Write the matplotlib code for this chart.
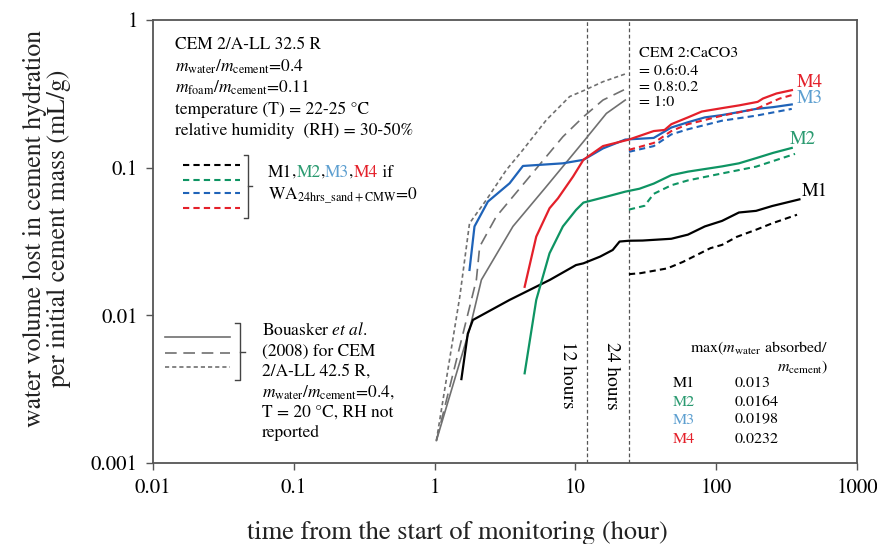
import numpy as np
import matplotlib
matplotlib.use('Agg')
import matplotlib.pyplot as plt
from matplotlib.lines import Line2D

plt.rcParams['font.family'] = 'STIXGeneral'
plt.rcParams['mathtext.fontset'] = 'stix'

# --- data (hours, mL/g) ---
m1_t = [1.55, 1.72, 1.87, 3.4, 6.6, 10.1, 11.4, 15, 18.4, 20.6, 24, 30, 48, 63, 83, 110, 145, 192, 250, 390]
m1_v = [0.0037, 0.0075, 0.0093, 0.0127, 0.0174, 0.0219, 0.0225, 0.025, 0.0277, 0.0316, 0.032, 0.0321,
        0.033, 0.0352, 0.040, 0.0436, 0.0497, 0.051, 0.055, 0.061]
m1d_t = [24, 29, 45, 58, 75, 91, 110, 140, 192, 250, 375]
m1d_v = [0.019, 0.0193, 0.0208, 0.023, 0.026, 0.0285, 0.030, 0.034, 0.038, 0.042, 0.048]

m2_t = [4.36, 5.27, 6.55, 8.15, 10.1, 11.4, 16.6, 22.6, 28.5, 36, 48, 63, 110, 145, 192, 254, 344]
m2_v = [0.00405, 0.0127, 0.0263, 0.040, 0.0517, 0.058, 0.0636, 0.0688, 0.072, 0.078, 0.089, 0.094,
        0.102, 0.107, 0.116, 0.126, 0.136]
m2d_t = [24, 31, 36, 48, 63, 110, 192, 363]
m2d_v = [0.052, 0.0552, 0.0665, 0.076, 0.082, 0.0914, 0.1016, 0.124]

m3_t = [1.77, 1.92, 2.39, 3.41, 4.24, 8.15, 11.4, 15.7, 22.6, 36, 48, 63, 83, 110, 145, 192, 254, 344]
m3_v = [0.0203, 0.040, 0.0589, 0.0784, 0.1027, 0.107, 0.113, 0.135, 0.155, 0.159, 0.187, 0.203,
        0.219, 0.227, 0.238, 0.250, 0.257, 0.268]
m3d_t = [24, 36, 48, 63, 110, 192, 344]
m3d_v = [0.128, 0.140, 0.168, 0.182, 0.208, 0.225, 0.250]

m4_t = [4.36, 5.27, 6.55, 7.52, 9.62, 11.4, 15.7, 24, 36, 43, 48, 63, 79, 110, 145, 197, 215, 268, 345]
m4_v = [0.0156, 0.0341, 0.0531, 0.062, 0.087, 0.113, 0.14, 0.155, 0.177, 0.18, 0.197, 0.219, 0.24,
        0.253, 0.264, 0.279, 0.294, 0.318, 0.335]
m4d_t = [24, 36, 48, 63, 110, 192, 283, 344]
m4d_v = [0.132, 0.147, 0.177, 0.197, 0.225, 0.25, 0.294, 0.31]

# Bouasker et al. (2008)
b10_t = [1.03, 1.77, 2.15, 3.6, 6.21, 11.4, 16.6, 22.6]
b10_v = [0.00142, 0.008, 0.0174, 0.040, 0.0744, 0.15, 0.233, 0.287]
b82_t = [1.03, 1.98, 2.09, 2.74, 4.73, 8.15, 11.4, 15.7, 22.6]
b82_v = [0.00142, 0.0174, 0.0292, 0.0466, 0.087, 0.162, 0.221, 0.287, 0.34]
b64_t = [1.03, 1.51, 1.77, 2.33, 3.23, 4.24, 6.21, 9.1, 11.4, 15.7, 22.6]
b64_v = [0.00142, 0.0134, 0.042, 0.0605, 0.0964, 0.132, 0.21, 0.303, 0.332, 0.382, 0.431]

mix_names = ['M1', 'M2', 'M3', 'M4']
max_absorbed = ['0.013', '0.0164', '0.0198', '0.0232']
x_ticks = [0.01, 0.1, 1, 10, 100, 1000]
x_ticklabels = ['0.01', '0.1', '1', '10', '100', '1000']
y_ticks = [0.001, 0.01, 0.1, 1]
y_ticklabels = ['0.001', '0.01', '0.1', '1']

c_m1 = 'black'
c_m2 = '#0e9463'
c_m3 = '#1f63b8'
c_m4 = '#e4202a'
txt_colors = ['black', '#2a9a70', '#5d9fd0', '#e4202a']
c_gray = '#707070'

fig = plt.figure(figsize=(8.77, 5.44), dpi=100)
ax = fig.add_axes([153 / 877, 81 / 544, 704 / 877, 443 / 544])
ax.set_xscale('log')
ax.set_yscale('log')
ax.set_xlim(0.01, 1000)
ax.set_ylim(0.001, 1)

# reference lines at 12 and 24 hours
for h in [12, 24]:
    ax.axvline(h, color='#555555', lw=0.9, ls=(0, (3, 2)))

# Bouasker curves
ax.plot(b10_t, b10_v, color=c_gray, lw=1.2, ls='-')
ax.plot(b82_t, b82_v, color=c_gray, lw=1.2, ls=(0, (7, 4)))
ax.plot(b64_t, b64_v, color=c_gray, lw=1.2, ls=(0, (2.5, 1.8)))

# measured curves
ax.plot(m1_t, m1_v, color=c_m1, lw=1.6)
ax.plot(m2_t, m2_v, color=c_m2, lw=1.6)
ax.plot(m3_t, m3_v, color=c_m3, lw=1.6)
ax.plot(m4_t, m4_v, color=c_m4, lw=1.6)
ax.plot(m1d_t, m1d_v, color=c_m1, lw=1.5, ls=(0, (3, 2)))
ax.plot(m2d_t, m2d_v, color=c_m2, lw=1.5, ls=(0, (3, 2)))
ax.plot(m3d_t, m3d_v, color=c_m3, lw=1.5, ls=(0, (3, 2)))
ax.plot(m4d_t, m4d_v, color=c_m4, lw=1.5, ls=(0, (3, 2)))

ax.set_xticks(x_ticks)
ax.set_xticklabels(x_ticklabels)
ax.set_yticks(y_ticks)
ax.set_yticklabels(y_ticklabels)
ax.minorticks_off()
ax.tick_params(axis='both', direction='out', length=5, width=1, color='#555555',
               labelsize=15, pad=6)
for s in ax.spines.values():
    s.set_color('#555555')
    s.set_linewidth(1.3)

fig.text(47 / 877, 1 - 228 / 544, 'water volume lost in cement hydration\nper initial cement mass (mL/g)',
         rotation=90, ha='center', va='center', fontsize=18.5, multialignment='center',
         linespacing=1.05, color='#222222')
fig.text(457 / 877, 11 / 544, 'time from the start of monitoring (hour)',
         ha='center', va='center', fontsize=19, color='#222222')

T = ax.transAxes
fs = 12.5
info = ['CEM 2/A-LL 32.5 R',
        r'$m_{\rm water}/m_{\rm cement}$=0.4',
        r'$m_{\rm foam}/m_{\rm cement}$=0.11',
        'temperature (T) = 22-25 °C',
        'relative humidity  (RH) = 30-50%']
for s, yy in zip(info, [0.9436, 0.894, 0.847, 0.797, 0.749]):
    ax.text(0.031, yy, s, transform=T, fontsize=fs, va='center', ha='left')

# legend 1: dashed coloured lines
for c, yy in zip([c_m1, c_m2, c_m3, c_m4], [0.6727, 0.6388, 0.6095, 0.5756]):
    ax.add_line(Line2D([0.043, 0.124], [yy, yy], transform=T, color=c, lw=1.5, ls=(0, (3, 2))))
ax.add_line(Line2D([0.129, 0.135, 0.135, 0.129], [0.695, 0.695, 0.553, 0.553], transform=T,
                   color='#444444', lw=1))
ax.add_line(Line2D([0.135, 0.141], [0.625, 0.625], transform=T, color='#444444', lw=1))
prev = ax.text(0.163, 0.655, 'M1', transform=T, fontsize=fs, va='center', ha='left', color=txt_colors[0])
pieces = [(',', 'black'), ('M2', txt_colors[1]), (',', 'black'), ('M3', txt_colors[2]),
          (',', 'black'), ('M4', txt_colors[3]), (' if', 'black')]
for s, c in pieces:
    prev = ax.annotate(s, xy=(1, 0), xycoords=prev, va='bottom', ha='left', fontsize=fs, color=c)
ax.text(0.163, 0.603, r'WA$_{\rm 24hrs\_sand+CMW}$=0', transform=T, fontsize=fs, va='center', ha='left')

# legend 2: Bouasker et al.
for ls, yy in zip(['-', (0, (7, 4)), (0, (2.5, 1.8))], [0.284, 0.248, 0.217]):
    ax.add_line(Line2D([0.017, 0.109], [yy, yy], transform=T, color=c_gray, lw=1.2, ls=ls))
ax.add_line(Line2D([0.117, 0.1236, 0.1236, 0.117], [0.316, 0.316, 0.187, 0.187], transform=T,
                   color='#444444', lw=1))
ax.add_line(Line2D([0.1236, 0.1307], [0.2506, 0.2506], transform=T, color='#444444', lw=1))
ref_lines = [r'Bouasker $et\ al$.', '(2008) for CEM', '2/A-LL 42.5 R,',
             r'$m_{\rm water}/m_{\rm cement}$=0.4,', 'T = 20 °C, RH not', 'reported']
for s, yy in zip(ref_lines, [0.298, 0.2506, 0.2054, 0.1603, 0.1129, 0.0677]):
    ax.text(0.155, yy, s, transform=T, fontsize=fs, va='center', ha='left')

# gray curve labels
for s, yy in zip(['CEM 2:CaCO3', '= 0.6:0.4', '= 0.8:0.2', '= 1:0'], [0.9255, 0.885, 0.849, 0.815]):
    ax.text(0.690, yy, s, transform=T, fontsize=11.5, va='center', ha='left')

# end labels
ax.text(0.915, 0.858, 'M4', transform=T, fontsize=13.5, color=txt_colors[3], va='center')
ax.text(0.915, 0.822, 'M3', transform=T, fontsize=13.5, color=txt_colors[2], va='center')
ax.text(0.905, 0.731, 'M2', transform=T, fontsize=13.5, color=txt_colors[1], va='center')
ax.text(0.922, 0.612, 'M1', transform=T, fontsize=13.5, color='black', va='center')

# 12 h / 24 h labels
ax.text(0.5895, 0.1986, '12 hours', transform=T, rotation=270, fontsize=14, ha='center', va='center')
ax.text(0.652, 0.196, '24 hours', transform=T, rotation=270, fontsize=14, ha='center', va='center')

# max absorbed table
ax.text(0.959, 0.2596, r'max($m_{\rm water}$ absorbed/', transform=T, fontsize=11.5, ha='right', va='center')
ax.text(0.959, 0.2167, r'$m_{\rm cement}$)', transform=T, fontsize=11.5, ha='right', va='center')
for name, val, c, yy in zip(mix_names, max_absorbed, txt_colors, [0.1806, 0.1377, 0.0971, 0.0542]):
    ax.text(0.7386, yy, name, transform=T, fontsize=11.5, color=c, va='center')
    ax.text(0.8267, yy, val, transform=T, fontsize=11.5, color='black', va='center')

fig.savefig('out.png', dpi=100)
